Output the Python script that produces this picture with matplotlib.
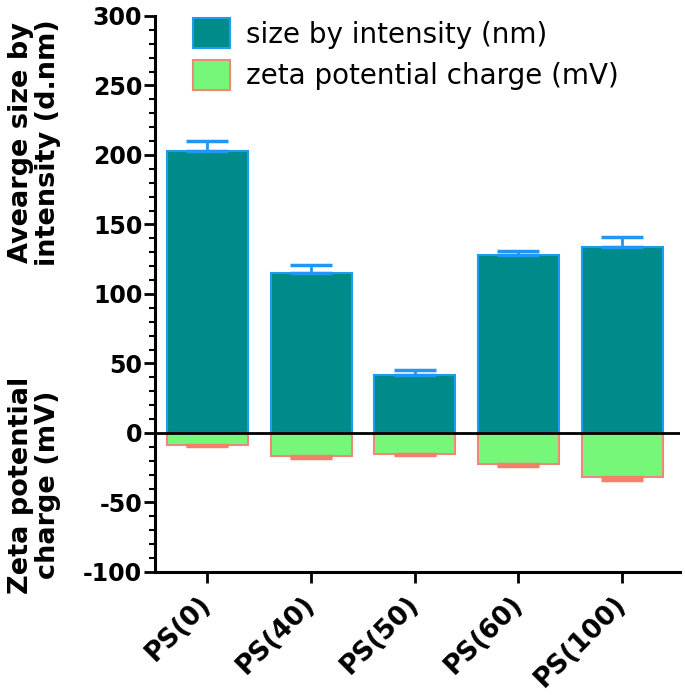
import numpy as np
import matplotlib as mpl
import matplotlib.pyplot as plt
from matplotlib.ticker import MultipleLocator

mpl.rc('font', family=['DejaVu Sans'], size=15)
mpl.rc('axes', unicode_minus=False)

samples = ['PS(0)', 'PS(40)', 'PS(50)', 'PS(60)', 'PS(100)']
size_nm = [203, 115, 42, 128, 134]
size_err = [7, 5.5, 3.5, 3, 7]
zeta_mv = [-8.6, -16.5, -14.9, -22, -32]
zeta_err = [1, 1.5, 1, 1.7, 1.5]

teal = '#008b8b'
teal_edge = '#1e9cf0'
green = '#77f77a'
green_edge = '#f08878'

x = np.arange(len(samples))
fig = plt.figure(figsize=(6.85, 6.95), dpi=100)
ax = fig.add_axes([0.226, 0.177, 0.767, 0.8])

ax.bar(x, size_nm, width=0.78, color=teal, edgecolor=teal_edge, linewidth=1.5,
       label='size by intensity (nm)', zorder=2)
ax.bar(x, zeta_mv, width=0.78, color=green, edgecolor=green_edge, linewidth=1.5,
       label='zeta potential charge (mV)', zorder=2)
ax.errorbar(x, size_nm, yerr=[np.zeros(len(x)), size_err], fmt='none',
            ecolor='#2196f3', elinewidth=2, capsize=15, capthick=2.5, zorder=3)
ax.errorbar(x, zeta_mv, yerr=[zeta_err, np.zeros(len(x))], fmt='none',
            ecolor='#f4806c', elinewidth=2, capsize=15, capthick=2.5, zorder=3)
ax.axhline(0, color='black', linewidth=2, zorder=4)

ax.set_xlim(-0.507, 4.56)
ax.set_ylim(-100, 300)
ax.yaxis.set_major_locator(MultipleLocator(50))
ax.yaxis.set_minor_locator(MultipleLocator(10))
ax.set_xticks(x)
ax.set_xticklabels(samples, rotation=45, ha='right', va='center',
                   rotation_mode='anchor', fontweight='bold', fontsize=19)
for lab in ax.get_yticklabels():
    lab.set_fontweight('bold')
    lab.set_fontsize(17)
ax.tick_params(axis='y', which='major', length=8, width=2, pad=1)
ax.tick_params(axis='y', which='minor', length=4, width=1.5)
ax.tick_params(axis='x', length=8, width=2, pad=12)
for side in ['top', 'right']:
    ax.spines[side].set_visible(False)
for side in ['left', 'bottom']:
    ax.spines[side].set_linewidth(2.2)

fig.text(0.05, 0.795, 'Avearge size by\nintensity (d.nm)', rotation=90,
         ha='center', va='center', fontweight='bold', fontsize=19.5,
         linespacing=1.05)
fig.text(0.05, 0.302, 'Zeta potential\ncharge (mV)', rotation=90,
         ha='center', va='center', fontweight='bold', fontsize=19.5,
         linespacing=1.05)

ax.legend(loc='upper left', bbox_to_anchor=(0.026, 1.041), frameon=False,
          fontsize=20, handlelength=1.3, handleheight=1.3, handletextpad=0.58,
          labelspacing=0.4)

fig.savefig('out.png', dpi=100)
